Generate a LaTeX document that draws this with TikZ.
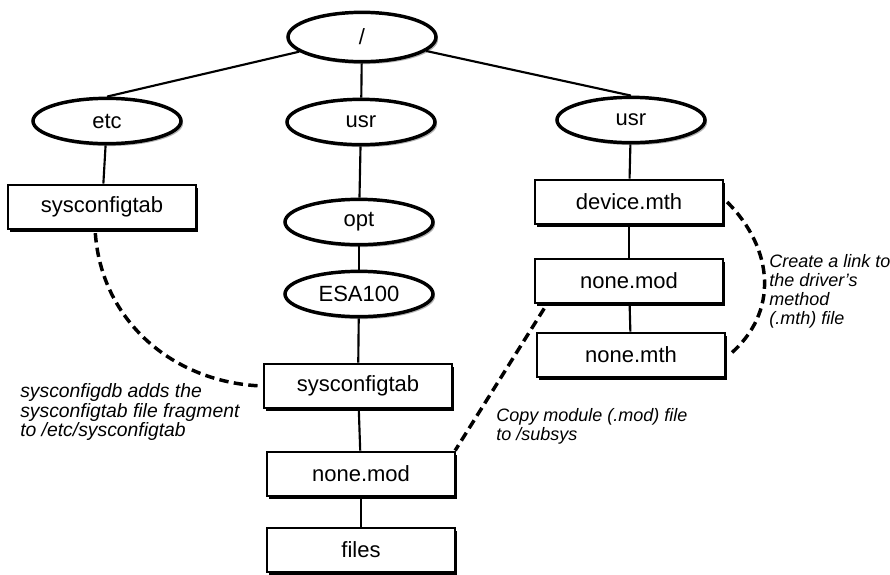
\documentclass[tikz,border=0pt]{standalone}
\usepackage{fontspec}
\setmainfont{Liberation Sans}
\usetikzlibrary{shapes.geometric,shadows}

\begin{document}
\begin{tikzpicture}[x=0.75pt,y=-0.75pt,
  dir/.style={ellipse,draw,line width=2.6pt,fill=white,minimum width=111pt,
    minimum height=34pt,inner sep=0pt,font=\fontsize{16.5}{18}\selectfont,
    drop shadow={shadow xshift=1.6pt,shadow yshift=-1.8pt,fill=gray!60,opacity=1}},
  file/.style={rectangle,draw,line width=2.2pt,fill=white,minimum width=141pt,
    minimum height=33pt,inner sep=0pt,font=\fontsize{16.5}{18}\selectfont,
    drop shadow={shadow xshift=1.8pt,shadow yshift=-2pt,fill=black,opacity=1}},
  link/.style={line width=1.6pt},
  copy/.style={line width=2.6pt,dash pattern=on 7pt off 4pt},
  note/.style={font=\fontsize{13.5}{14.3}\selectfont\itshape,align=left,
    anchor=west,inner sep=0pt}]
  \useasboundingbox (0,0) rectangle (890,575);

  % Directorios
  \node[dir,minimum height=37pt] (root) at (362,37) {/};
  \node[dir] (etc)  at (107,121) {etc};
  \node[dir] (usr1) at (361,122) {usr};
  \node[dir] (opt)  at (359,222) {opt};
  \node[dir] (esa)  at (359,294) {ESA100};
  \node[dir] (usr2) at (631,120) {usr};

  % Ficheros
  \node[file] (sct1)  at (102,207) {sysconfigtab};
  \node[file] (sct2)  at (358,386) {sysconfigtab};
  \node[file] (mod1)  at (361,474) {none.mod};
  \node[file] (files) at (361,550) {files};
  \node[file] (mth1)  at (629,202) {device.mth};
  \node[file] (mod2)  at (629,281) {none.mod};
  \node[file] (mth2)  at (631,355) {none.mth};

  % Arbol
  \draw[link] (root) -- (etc.north);
  \draw[link] (root) -- (usr1);
  \draw[link] (root) -- (usr2.north);
  \draw[link] (etc) -- (sct1);
  \draw[link] (usr1) -- (opt);
  \draw[link] (opt) -- (esa);
  \draw[link] (esa) -- (sct2);
  \draw[link] (sct2) -- (mod1);
  \draw[link] (mod1) -- (files);
  \draw[link] (usr2) -- (mth1);
  \draw[link] (mth1) -- (mod2);
  \draw[link] (mod2) -- (mth2);

  % Enlaces discontinuos
  \draw[copy] ([xshift=-5pt,yshift=-2pt]sct1.south) to[out=-86,in=178] (sct2.west);
  \draw[copy] ([xshift=8pt,yshift=-3pt]mod2.south west) -- ([xshift=-1pt]mod1.north east);
  \draw[copy] ([xshift=2pt]mth1.east) to[out=-45,in=40,looseness=1.1] ([xshift=2pt]mth2.east);

  % Notas
  \node[note,font=\fontsize{14.5}{14.5}\selectfont\itshape] (n1) at (20,412)
    {sysconfigdb adds the\\sysconfigtab file fragment\\to /etc/sysconfigtab};
  \node[note] (n2) at (496,426) {Copy module (.mod) file\\to /subsys};
  \node[note] (n3) at (769,291) {Create a link to\\the driver's\\method\\(.mth) file};
\end{tikzpicture}
\end{document}
